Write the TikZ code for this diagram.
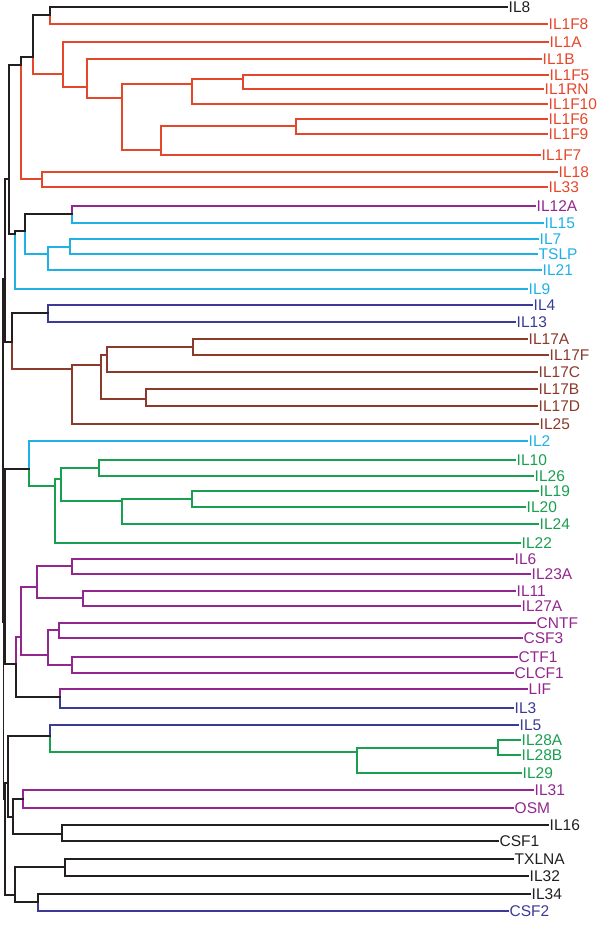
\documentclass[tikz,border=0pt]{standalone}
\usepackage{fontspec}
\setmainfont{Liberation Sans}
\usepackage{tikz}
\definecolor{dblack}{HTML}{231F20}
\definecolor{dred}{HTML}{E5472B}
\definecolor{dcyan}{HTML}{1FB0E6}
\definecolor{dpurple}{HTML}{92278F}
\definecolor{dblue}{HTML}{3B3A94}
\definecolor{dbrown}{HTML}{8B3A2C}
\definecolor{dgreen}{HTML}{1A9E50}

\begin{document}
\begin{tikzpicture}[
  x=1pt,y=-1pt,
  every node/.style={font=\fontsize{15.5}{18}\selectfont},
  lab/.style={anchor=west,inner sep=1.5pt},
  br/.style={line width=1.8pt,line cap=rect}
]
\useasboundingbox (0,-2) rectangle (600,923);
\foreach \n/\x/\y/\c in {
  IL8/507/5/dblack, IL1F8/547/22/dred, IL1A/548/40/dred, IL1B/541/57/dred,
  IL1F5/548/73/dred, IL1RN/543/87/dred, IL1F10/547/102/dred, IL1F6/547/117/dred,
  IL1F9/547/132/dred, IL1F7/540/153/dred, IL18/557/170/dred, IL33/547/185/dred,
  IL12A/535/204/dpurple, IL15/543/221/dcyan, IL7/538/237/dcyan, TSLP/537/252/dcyan,
  IL21/541/268/dcyan, IL9/527/287/dcyan, IL4/532/303/dblue, IL13/515/320/dblue,
  IL17A/527/337/dbrown, IL17F/548/353/dbrown, IL17C/537/370/dbrown, IL17B/537/387/dbrown,
  IL17D/537/404/dbrown, IL25/538/422/dbrown, IL2/527/439/dcyan, IL10/515/458/dgreen,
  IL26/533/474/dgreen, IL19/538/489/dgreen, IL20/525/505/dgreen, IL24/538/522/dgreen,
  IL22/520/541/dgreen, IL6/513/557/dpurple, IL23A/530/572/dpurple, IL11/515/589/dpurple,
  IL27A/520/604/dpurple, CNTF/535/621/dpurple, CSF3/522/636/dpurple, CTF1/517/655/dpurple,
  CLCF1/513/671/dpurple, LIF/527/687/dpurple, IL3/513/706/dblue, IL5/518/723/dblue,
  IL28A/520/738/dgreen, IL28B/520/753/dgreen, IL29/521/771/dgreen, IL31/533/788/dpurple,
  OSM/513/806/dpurple, IL16/548/823/dblack, CSF1/498/839/dblack, TXLNA/513/857/dblack,
  IL32/528/874/dblack, IL34/530/892/dblack, CSF2/508/909/dblue}
  \node[lab,text=\c] (\n) at (\x,\y) {\n};
\foreach \n/\x/\y in {
  a1/50/13, a2/33/55, l1/63/72, b1/87/85, b2/122/96, b3/192/82, b4/243/77,
  b5/161/148, b6/296/124, i18/42/177, a3/21/63, c1/72/212, c2/70/245, c3/48/252,
  c4/25/229, c5/15/232, a4/9/177, d0/48/311, e1/193/345, e2/107/353, e3/146/397,
  e4/101/363, e5/72/367, d1/12/340, a5/5/277, f6/192/497, f5/122/499, f4/99/466,
  f3/61/477, f2/55/484, f1/29/467, g1/72/564, g2/83/596, g3/37/585, g4/59/628,
  g5/72/663, g6/48/653, g7/21/635, g9/60/695, g8/16/662, p2/5/597, h0/498/746,
  h28/357/750, h1/50/734, k1/23/797, k2/62/832, i1/13/815, h2/8/781, k3/65/865,
  k4/38/900, i2/15/893, h3/5/797, p3/3.5/620, root/3/450}
  \coordinate (\n) at (\x,\y);
\foreach \p/\k/\c in {
  a1/IL8/dblack, a1/IL1F8/dred, a2/a1/dblack, a2/l1/dred,
  l1/IL1A/dred, l1/b1/dred, b1/IL1B/dred, b1/b2/dred, b2/b3/dred, b2/b5/dred,
  b3/b4/dred, b3/IL1F10/dred, b4/IL1F5/dred, b4/IL1RN/dred, b5/b6/dred, b5/IL1F7/dred,
  b6/IL1F6/dred, b6/IL1F9/dred, i18/IL18/dred, i18/IL33/dred, a3/a2/dblack, a3/i18/dred,
  c1/IL12A/dpurple, c1/IL15/dcyan, c2/IL7/dcyan, c2/TSLP/dcyan, c3/c2/dcyan, c3/IL21/dcyan,
  c4/c1/dblack, c4/c3/dcyan, c5/c4/dblack, c5/IL9/dcyan, a4/a3/dblack, a4/c5/dblack,
  d0/IL4/dblue, d0/IL13/dblue, e1/IL17A/dbrown, e1/IL17F/dbrown, e2/e1/dbrown, e2/IL17C/dbrown,
  e3/IL17B/dbrown, e3/IL17D/dbrown, e4/e2/dbrown, e4/e3/dbrown, e5/e4/dbrown, e5/IL25/dbrown,
  d1/d0/dblack, d1/e5/dbrown, a5/a4/dblack, a5/d1/dblack,
  f6/IL19/dgreen, f6/IL20/dgreen, f5/f6/dgreen, f5/IL24/dgreen, f4/IL10/dgreen, f4/IL26/dgreen,
  f3/f4/dgreen, f3/f5/dgreen, f2/f3/dgreen, f2/IL22/dgreen, f1/IL2/dcyan, f1/f2/dgreen,
  g1/IL6/dpurple, g1/IL23A/dpurple, g2/IL11/dpurple, g2/IL27A/dpurple, g3/g1/dpurple, g3/g2/dpurple,
  g4/CNTF/dpurple, g4/CSF3/dpurple, g5/CTF1/dpurple, g5/CLCF1/dpurple, g6/g4/dpurple, g6/g5/dpurple,
  g7/g3/dpurple, g7/g6/dpurple, g9/LIF/dpurple, g9/IL3/dblue, g8/g7/dpurple, g8/g9/dblack,
  p2/f1/dblack, p2/g8/dblack,
  h0/IL28A/dgreen, h0/IL28B/dgreen, h28/h0/dgreen, h28/IL29/dgreen, h1/IL5/dblue, h1/h28/dgreen,
  k1/IL31/dpurple, k1/OSM/dpurple, k2/IL16/dblack, k2/CSF1/dblack, i1/k1/dblack, i1/k2/dblack,
  h2/h1/dblack, h2/i1/dblack, k3/TXLNA/dblack, k3/IL32/dblack, k4/IL34/dblack, k4/CSF2/dblue,
  i2/k3/dblack, i2/k4/dblack, h3/h2/dblack, h3/i2/dblack,
  p3/p2/dblack, p3/h3/dblack, root/a5/dblack, root/p3/dblack}
  \draw[br,color=\c] (\p) |- (\k);
\end{tikzpicture}
\end{document}
